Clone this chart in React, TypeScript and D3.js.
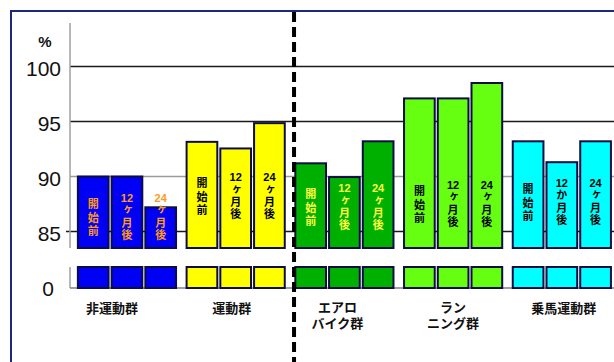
import React from 'react';
import * as d3 from 'd3';

// ---- data ----
const groups = ['非運動群', '運動群', 'エアロバイク群', 'ランニング群', '乗馬運動群'];
const groupLabelLines = [['非運動群'], ['運動群'], ['エアロ', 'バイク群'], ['ラン', 'ニング群'], ['乗馬運動群']];
const periods = ['開始前', '12ヶ月後', '24ヶ月後'];
const nonExercise = [90.0, 90.0, 87.2];
const exercise = [93.15, 92.55, 94.85];
const aerobike = [91.2, 89.95, 93.2];
const running = [97.1, 97.1, 98.5];
const riding = [93.2, 91.3, 93.2];
const seriesValues = [nonExercise, exercise, aerobike, running, riding];
const barLabels = [
  ['開始前', '12ヶ月後', '24ヶ月後'],
  ['開始前', '12ヶ月後', '24ヶ月後'],
  ['開始前', '12ヶ月後', '24ヶ月後'],
  ['開始前', '12ヶ月後', '24ヶ月後'],
  ['開始前', '12か月後', '24ヶ月後'],
];
const yTicks = [85, 90, 95, 100];
const lowerTick = 0;

// ---- styles / layout ----
const groupColors = ['#0000f5', '#ffff00', '#00b000', '#66ff11', '#00ffff'];
const textColors = ['#ff9a1a', '#000000', '#ffff40', '#000000', '#000000'];
const labelLevel = [88.05, 89.95, 88.95, 89.23, 89.41]; // value where in-bar text starts
const labelDx = [-15, -4, -7, 0, 2];
const gridColors: Record<number, string> = { 85: '#1a1a1a', 90: '#9a9a9a', 95: '#1a1a1a', 100: '#1a1a1a' };

const W = 614;
const H = 362;
const axisX = 70;
const breakTop = 248;
const breakBottom = 267;
const baseY = 288;

export default function App() {
  const yUpper = d3.scaleLinear().domain([85, 100]).range([231.5, 66.5]);
  const x0 = d3.scaleBand<string>().domain(groups).range([72.6, 616.2]).paddingInner(0.097).paddingOuter(0.0485);
  const x1 = d3.scaleBand<number>().domain(periods.map((_, i) => i)).range([0, x0.bandwidth()]).paddingInner(0.09);
  const bw = x1.bandwidth();
  const dashX = ((x0(groups[1])! + x0.bandwidth()) + x0(groups[2])!) / 2 + 4;
  const jp = '"Noto Sans CJK JP", "Noto Sans", sans-serif';
  const jpLabel = '"Liberation Sans", "Noto Sans CJK JP", sans-serif';

  return (
    <svg width={W} height={H} style={{ position: 'absolute', left: 0, top: 0, display: 'block', background: '#fff' }}>
      <rect x={11} y={11} width={W + 50} height={H + 50} fill="#fff" stroke="#1c2878" strokeWidth={2} />
      {/* gridlines */}
      {yTicks.map((t) => (
        <line key={t} x1={t === 85 ? axisX - 4 : axisX} x2={W} y1={yUpper(t)} y2={yUpper(t)} stroke={gridColors[t]} strokeWidth={1.6} />
      ))}
      {/* axis */}
      <line x1={axisX} x2={axisX} y1={23} y2={breakTop} stroke="#a0a0a0" strokeWidth={1.5} />
      <line x1={axisX} x2={axisX} y1={breakBottom} y2={baseY} stroke="#a0a0a0" strokeWidth={1.5} />
      <line x1={axisX} x2={W} y1={baseY} y2={baseY} stroke="#808080" strokeWidth={1.5} />
      {/* bars */}
      {groups.map((g, gi) => (
        <g key={g} transform={`translate(${x0(g)},0)`}>
          {seriesValues[gi].map((v, pi) => {
            const bx = x1(pi)!;
            return (
              <g key={pi}>
                <rect x={bx} y={yUpper(v)} width={bw} height={breakTop - yUpper(v)} fill={groupColors[gi]} stroke="#0d0d45" strokeWidth={2} />
                <rect x={bx} y={breakBottom} width={bw} height={baseY - breakBottom} fill={groupColors[gi]} stroke="#0d0d45" strokeWidth={2} />
              </g>
            );
          })}
        </g>
      ))}
      {/* in-bar labels */}
      {groups.map((g, gi) => (
        <g key={'t' + g} transform={`translate(${x0(g)},0)`} fontWeight={700} fontSize={11} fill={textColors[gi]}>
          {barLabels[gi].map((lab, pi) => {
            const cx = x1(pi)! + bw / 2;
            const top = yUpper(labelLevel[gi]);
            const m = lab.match(/^(\d+)(.*)$/);
            if (m) {
              return (
                <g key={pi}>
                  <text x={cx} y={top + 4} textAnchor="middle" fontFamily='"Liberation Sans", Arial, sans-serif'>{m[1]}</text>
                  <text x={cx} y={top + 6.8} fontFamily={jp} style={{ writingMode: 'vertical-rl', letterSpacing: '1.2px' } as any}>{m[2]}</text>
                </g>
              );
            }
            return (
              <text key={pi} x={cx} y={top + 0.5} fontFamily={jp} style={{ writingMode: 'vertical-rl', letterSpacing: '2.5px' } as any}>{lab}</text>
            );
          })}
        </g>
      ))}
      {/* dashed divider */}
      <line x1={dashX} x2={dashX} y1={12} y2={H} stroke="#000" strokeWidth={4} strokeDasharray="10 5" />
      {/* y tick labels */}
      <g fontFamily='"Liberation Sans", Arial, sans-serif' fontSize={21} fill="#111" textAnchor="end">
        {yTicks.map((t) => (
          <text key={t} x={61} y={yUpper(t) + 2} dominantBaseline="central">{t}</text>
        ))}
        <text x={54} y={baseY} dominantBaseline="central">{lowerTick}</text>
      </g>
      <text x={45} y={41} fontFamily='"Liberation Sans", Arial, sans-serif' fontWeight={700} fontSize={15} textAnchor="middle" dominantBaseline="central" fill="#111">%</text>
      {/* x group labels */}
      <g fontFamily={jpLabel} fontWeight={700} fontSize={13} fill="#111" textAnchor="middle">
        {groups.map((g, gi) => {
          const cx = x0(g)! + x0.bandwidth() / 2 + labelDx[gi];
          const lines = groupLabelLines[gi];
          return lines.map((s, li) => (
            <text key={g + li} x={cx} y={(lines.length === 1 ? 308 : 307) + li * 16.5} dominantBaseline="central">{s}</text>
          ));
        })}
      </g>
    </svg>
  );
}
